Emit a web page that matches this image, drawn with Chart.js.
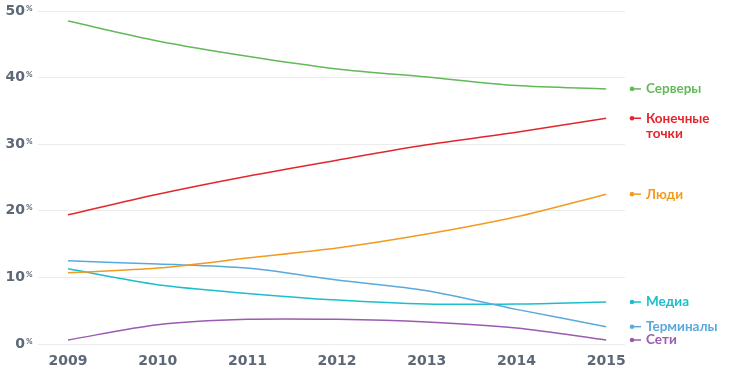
<!DOCTYPE html>
<html>
<head>
<meta charset="utf-8">
<script src="https://cdn.jsdelivr.net/npm/chart.js@4"></script>
<style>
html,body{margin:0;padding:0;background:#fff;}
#wrap{width:729px;height:375px;position:relative;}
</style>
</head>
<body>
<div id="wrap"><canvas id="c" width="729" height="375"></canvas></div>
<script>
const years = [2009, 2010, 2011, 2012, 2013, 2014, 2015];
const yTicks = [0, 10, 20, 30, 40, 50];

const servers   = [48.5, 45.5, 43.2, 41.3, 40.1, 38.8, 38.3];
const endpoints = [19.4, 22.5, 25.2, 27.6, 29.9, 31.8, 33.9];
const people    = [10.7, 11.4, 12.9, 14.4, 16.5, 19.1, 22.5];
const terminals = [12.5, 12.0, 11.4, 9.6, 8.0, 5.2, 2.6];
const media     = [11.3, 8.9, 7.6, 6.6, 6.0, 6.0, 6.3];
const networks  = [0.6, 2.9, 3.7, 3.7, 3.3, 2.4, 0.6];

const seriesNames = ['Серверы', 'Конечные\nточки', 'Люди', 'Терминалы', 'Медиа', 'Сети'];
const seriesData = [servers, endpoints, people, terminals, media, networks];
const colors = ['#62b957', '#e3262c', '#f29b1f', '#5aa9dc', '#1cbecd', '#9a5bb0'];

const TICKFONT = '"DejaVu Sans", sans-serif';
const FONT = 'Lato, "Noto Sans", sans-serif';
const GREY = '#5d6877';
const YPAD = 13;

const datasets = seriesData.map((vals, i) => ({
  label: seriesNames[i],
  data: years.map((y, j) => ({x: y, y: vals[j]})),
  borderColor: colors[i],
  backgroundColor: colors[i],
  borderWidth: 1.5,
  pointRadius: 0,
  tension: 0.3,
  fill: false
}));

const pctPlugin = {
  id: 'pct',
  afterDraw(chart) {
    const ctx = chart.ctx;
    const ys = chart.scales.y;
    ctx.save();
    yTicks.forEach(v => {
      const py = ys.getPixelForValue(v);
      ctx.font = 'bold 8px ' + FONT;
      ctx.fillStyle = GREY;
      ctx.textBaseline = 'middle';
      ctx.textAlign = 'left';
      ctx.fillText('%', ys.right - YPAD + 1, py - 3);
    });
    ctx.restore();
  }
};

const endLabels = {
  id: 'endLabels',
  afterDatasetsDraw(chart) {
    const ctx = chart.ctx;
    const ys = chart.scales.y;
    const x0 = chart.chartArea.right + 7;
    ctx.save();
    chart.data.datasets.forEach((ds, i) => {
      const last = ds.data[ds.data.length - 1].y;
      const py = ys.getPixelForValue(last);
      ctx.fillStyle = ds.borderColor;
      ctx.strokeStyle = ds.borderColor;
      ctx.beginPath();
      ctx.arc(x0, py, 2.3, 0, Math.PI * 2);
      ctx.fill();
      ctx.lineWidth = 1.5;
      ctx.beginPath();
      ctx.moveTo(x0, py);
      ctx.lineTo(x0 + 9, py);
      ctx.stroke();
      ctx.font = 'bold 13.5px ' + FONT;
      ctx.textBaseline = 'middle';
      ctx.textAlign = 'left';
      ds.label.split('\n').forEach((line, k) => {
        ctx.fillText(line, x0 + 14, py + k * 15);
      });
    });
    ctx.restore();
  }
};

new Chart(document.getElementById('c'), {
  type: 'line',
  data: { datasets },
  options: {
    responsive: false,
    animation: false,
    layout: { padding: { top: 11, right: 104, left: 3, bottom: 0 } },
    plugins: { legend: { display: false }, tooltip: { enabled: false } },
    scales: {
      x: {
        type: 'linear',
        min: 2008.665,
        max: 2015.21,
        afterBuildTicks: (axis) => { axis.ticks = years.map(v => ({ value: v })); },
        afterFit: (scale) => { scale.height = 31; scale.paddingLeft = 0; scale.paddingRight = 0; },
        grid: { display: false, drawTicks: false },
        border: { display: false },
        ticks: {
          padding: 9,
          color: GREY,
          font: { family: TICKFONT, size: 14, weight: 'bold' },
          callback: (v) => String(v),
          maxRotation: 0,
          autoSkip: false
        }
      },
      y: {
        min: 0,
        max: 50,
        afterBuildTicks: (axis) => { axis.ticks = yTicks.map(v => ({ value: v })); },
        afterFit: (scale) => { scale.width = 35; scale.paddingTop = 0; scale.paddingBottom = 0; },
        grid: { color: '#ebebeb', lineWidth: 1, drawTicks: false },
        border: { display: false },
        ticks: {
          crossAlign: 'near',
          padding: YPAD,
          color: GREY,
          font: { family: TICKFONT, size: 14, weight: 'bold' },
          callback: (v) => String(v)
        }
      }
    }
  },
  plugins: [pctPlugin, endLabels]
});
</script>
</body>
</html>
